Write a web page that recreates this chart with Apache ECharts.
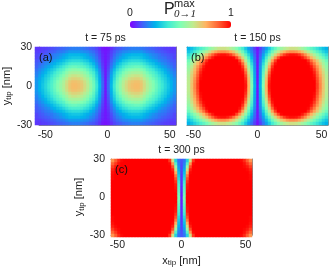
<!DOCTYPE html>
<html><head><meta charset="utf-8">
<style>html,body{margin:0;padding:0;background:#fff}#c{width:332px;height:268px}</style>
<script src="https://cdn.jsdelivr.net/npm/echarts@6/dist/echarts.min.js"></script>
</head><body><div id="c"></div>
<script>
// Probability in percent. One quadrant of each map (the maps are mirror-symmetric).
// Rows run from y near 0 up to y near 30 nm; columns run outward from x = 0 to x near 55 nm.
const panelA = [
[3,13,26,37,47,54,61,66,70,72,73,73,71,66,60,55,51,46,41,37,33,29,25,21],
[3,13,25,36,46,53,60,65,69,71,72,72,70,65,59,54,50,45,40,36,32,28,25,21],
[3,12,24,34,44,50,57,61,65,67,68,68,66,61,56,51,47,43,38,34,31,27,23,20],
[3,11,23,32,41,47,53,57,61,63,64,64,62,57,52,48,44,40,36,32,29,25,22,18],
[3,10,21,30,38,43,49,53,56,58,58,58,57,53,48,44,41,37,33,30,26,23,20,17],
[3,9,19,27,34,39,44,48,50,52,53,53,51,48,43,40,37,33,30,27,24,21,18,15],
[3,8,16,23,30,34,38,42,44,45,46,46,45,42,38,35,32,29,26,23,21,18,16,13],
[3,7,14,20,26,30,34,36,39,40,40,40,39,36,33,30,28,25,23,20,18,16,14,12],
[3,6,12,17,22,25,29,31,33,34,34,34,33,31,28,26,24,22,19,17,16,14,12,11],
[3,5,10,15,19,22,24,26,28,29,29,29,28,26,24,22,20,18,16,15,14,12,11,9],
[3,5,9,13,17,19,22,24,25,26,26,26,26,24,22,20,18,17,15,13,12,11,10,9],
[3,4,8,11,14,16,18,19,20,21,21,21,21,19,17,16,15,13,12,11,10,9,8,8],
[2,3,6,9,11,12,14,15,16,17,17,17,16,15,14,13,12,11,10,9,8,8,7,7]];
const panelB = [
[3,25,50,75,97,100,100,100,100,100,100,100,100,100,100,100,100,100,100,100,92,82,72,62],
[3,24,49,74,96,100,100,100,100,100,100,100,100,100,100,100,100,100,100,100,91,81,71,62],
[3,24,48,72,94,100,100,100,100,100,100,100,100,100,100,100,100,100,100,99,90,80,70,61],
[3,23,46,69,91,100,100,100,100,100,100,100,100,100,100,100,100,100,100,98,88,78,69,60],
[3,22,44,65,87,99,100,100,100,100,100,100,100,100,100,100,100,100,100,96,86,76,67,58],
[3,21,41,61,82,97,100,100,100,100,100,100,100,100,100,100,100,100,99,93,83,74,65,56],
[3,20,38,56,76,93,100,100,100,100,100,100,100,100,100,100,100,100,97,89,80,71,62,54],
[3,18,34,50,69,87,98,100,100,100,100,100,100,100,100,100,100,99,92,84,75,67,58,51],
[3,16,30,45,61,78,92,100,100,100,100,100,100,100,100,100,100,95,86,78,70,62,54,47],
[3,14,26,39,53,67,80,91,99,100,100,100,100,100,100,97,91,83,75,67,59,52,46,40],
[3,12,22,33,44,56,67,77,85,92,96,98,98,97,94,88,81,73,66,59,52,46,40,35],
[3,10,18,27,36,46,55,63,70,75,79,81,81,80,77,72,66,60,54,48,43,38,33,29],
[2,8,15,22,30,38,45,51,56,60,63,65,65,64,61,57,53,48,44,40,36,32,28,25]];
const panelC = [
[4,48,100,100,100,100,100,100,100,100,100,100,100,100,100,100,100,100,100,100,100,100,100,100],
[4,46,100,100,100,100,100,100,100,100,100,100,100,100,100,100,100,100,100,100,100,100,100,100],
[5,44,99,100,100,100,100,100,100,100,100,100,100,100,100,100,100,100,100,100,100,100,100,100],
[5,42,98,100,100,100,100,100,100,100,100,100,100,100,100,100,100,100,100,100,100,100,100,100],
[6,40,97,100,100,100,100,100,100,100,100,100,100,100,100,100,100,100,100,100,100,100,100,100],
[6,37,94,100,100,100,100,100,100,100,100,100,100,100,100,100,100,100,100,100,100,100,100,100],
[7,33,90,100,100,100,100,100,100,100,100,100,100,100,100,100,100,100,100,100,100,100,100,99],
[7,30,84,100,100,100,100,100,100,100,100,100,100,100,100,100,100,100,100,100,100,100,100,99],
[8,27,76,99,100,100,100,100,100,100,100,100,100,100,100,100,100,100,100,100,100,100,100,98],
[9,24,66,96,100,100,100,100,100,100,100,100,100,100,100,100,100,100,100,100,100,100,99,96],
[9,20,54,90,100,100,100,100,100,100,100,100,100,100,100,100,100,100,100,100,100,99,97,92],
[10,17,42,80,99,100,100,100,100,100,100,100,100,100,100,100,100,100,100,100,100,98,93,87],
[11,15,32,65,93,100,100,100,100,100,100,100,100,100,100,100,100,100,100,100,99,95,88,80]];
const panelTitles = ['t = 75 ps','t = 150 ps','t = 300 ps'];
const panelTags = ['(a)','(b)','(c)'];
const xTicks = [-50,0,50];
const yTicks = [-30,0,30];
const rainbow = ['#8000ff','#4061fa','#00b4eb','#40ebd4','#80ffb4','#c0eb8e','#ffb462','#ff6132','#ff0000'];

const panels = [panelA,panelB,panelC];
const boxes = [{l:35,t:47,w:141,h:78,m:7},{l:187,t:47,w:141,h:78,m:7},{l:111,t:159,w:141,h:78,m:6}];
const font = '"Liberation Sans",Arial,sans-serif';
const ink = '#222', edge = '#8a8a8a';
const nameRich = {
  a:{fontFamily:font,fontSize:11,color:ink},
  s:{fontFamily:font,fontSize:8,color:ink,padding:[5,0,0,0]}
};
const grid=[],xAxis=[],yAxis=[],series=[],title=[],graphic=[];
function cats(n){return Array.from({length:n},(_,i)=>String(i));}
boxes.forEach((b,p)=>{
  const rect={left:b.l,top:b.t,width:b.w,height:b.h,show:false};
  const heatGrid=grid.length; grid.push({...rect});
  const axisGrid=grid.length; grid.push({...rect});
  const base=xAxis.length, ybase=yAxis.length;
  xAxis.push({type:'category',gridIndex:heatGrid,data:cats(47),show:false});
  yAxis.push({type:'category',gridIndex:heatGrid,data:cats(26),show:false});
  const line={show:true,onZero:false,lineStyle:{color:edge,width:1}};
  const tick=v=>({show:true,inside:true,length:3,customValues:v,lineStyle:{color:edge,width:1}});
  xAxis.push({type:'value',gridIndex:axisGrid,position:'bottom',min:-55,max:55,axisLine:line,axisTick:tick(xTicks),splitLine:{show:false},
    axisLabel:{customValues:xTicks,margin:5,fontFamily:font,fontSize:10.5,color:ink,hideOverlap:false},
    ...(p===2?{name:'{a|x}{s|tip}{a| [nm]}',nameLocation:'middle',nameGap:19,nameTextStyle:{rich:nameRich}}:{})});
  xAxis.push({type:'value',gridIndex:axisGrid,position:'top',min:-55,max:55,axisLine:line,axisTick:tick(xTicks),axisLabel:{show:false},splitLine:{show:false}});
  yAxis.push({type:'value',gridIndex:axisGrid,position:'left',min:-30,max:30,axisLine:line,axisTick:tick(yTicks),splitLine:{show:false},
    axisLabel:{show:p!==1,customValues:yTicks,margin:b.m,fontFamily:font,fontSize:10.5,color:ink,hideOverlap:false},
    ...(p!==1?{name:'{a|y}{s|tip}{a| [nm]}',nameLocation:'middle',nameRotate:90,nameGap:p===0?21:24,nameTextStyle:{rich:nameRich}}:{})});
  yAxis.push({type:'value',gridIndex:axisGrid,position:'right',min:-30,max:30,axisLine:line,axisTick:tick(yTicks),axisLabel:{show:false},splitLine:{show:false}});
  const data=[];
  panels[p].forEach((row,r)=>row.forEach((v,c)=>{
    const xs=c===0?[23]:[23+c,23-c];
    xs.forEach(xi=>[13+r,12-r].forEach(yi=>data.push([xi,yi,v/100])));
  }));
  series.push({type:'heatmap',xAxisIndex:base,yAxisIndex:ybase,data,progressive:0,animation:false,itemStyle:{borderWidth:0}});
  title.push({text:panelTitles[p],left:b.l+b.w/2,top:b.t-14,textAlign:'center',textStyle:{fontFamily:font,fontSize:10.5,fontWeight:'normal',color:ink},padding:0});
  graphic.push({type:'text',left:b.l+4,top:b.t+5,z:100,style:{text:panelTags[p],fontFamily:font,fontSize:11,fill:'#111'}});
});
graphic.push(
 {type:'text',left:127,top:8,style:{text:'0',fontFamily:font,fontSize:10.5,fill:ink}},
 {type:'text',left:228,top:8,style:{text:'1',fontFamily:font,fontSize:10.5,fill:ink}},
 {type:'text',left:164,top:2,style:{text:'P',fontFamily:font,fontSize:16,fill:ink}},
 {type:'text',left:174,top:-2,style:{text:'max',fontFamily:font,fontSize:11,fill:ink}},
 {type:'text',left:174,top:9,style:{text:'0→1',fontFamily:'"Liberation Serif",serif',fontStyle:'italic',fontSize:11,fill:ink}}
);
const chart=echarts.init(document.getElementById('c'),null,{renderer:'canvas'});
chart.setOption({animation:false,backgroundColor:'#fff',grid,xAxis,yAxis,series,title,graphic,
 visualMap:{type:'continuous',min:0,max:1,orient:'horizontal',left:130,top:21,padding:0,itemWidth:7,itemHeight:101,calculable:false,showLabel:false,text:null,seriesIndex:[0,1,2],inRange:{color:rainbow}}
});
</script></body></html>
